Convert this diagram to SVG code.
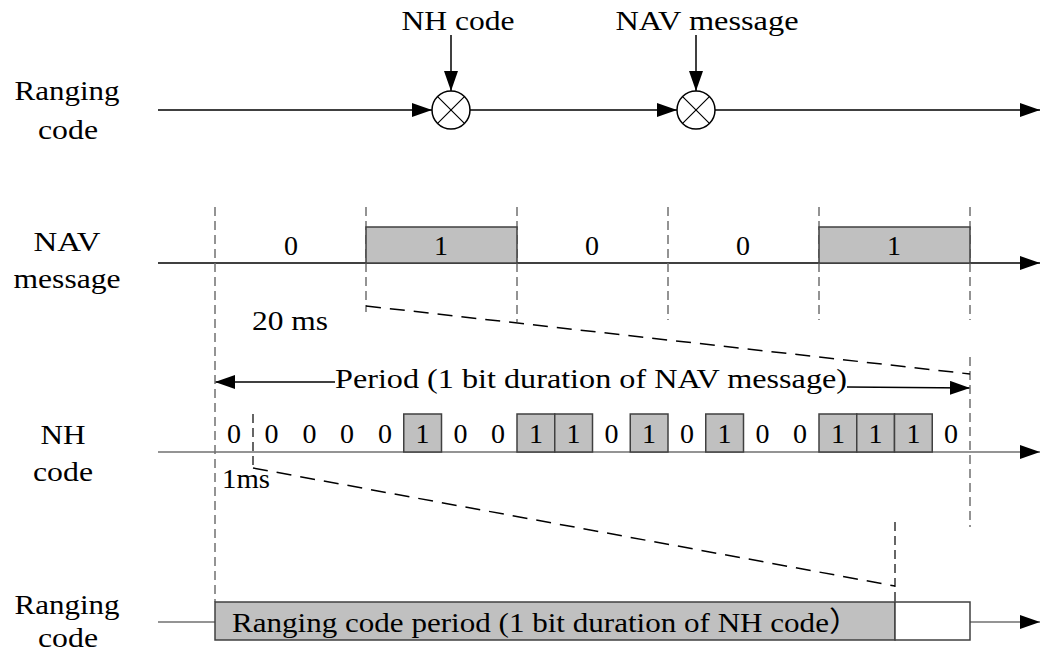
<svg xmlns="http://www.w3.org/2000/svg" width="1041" height="653" viewBox="0 0 1041 653">
<style>
text{font-family:"Liberation Serif","Times New Roman",serif;font-size:28px;fill:#000;text-anchor:middle}
.ax{stroke:#000;stroke-width:1.5;fill:none}
.axg{stroke:#707070;stroke-width:1.5;fill:none}
.vd{stroke:#707070;stroke-width:1.5;stroke-dasharray:9,5;fill:none}
.vdk{stroke:#000;stroke-width:1.2;stroke-dasharray:9,5;fill:none}
.dg{stroke:#000;stroke-width:1.5;stroke-dasharray:15,9;fill:none}
.bx{fill:#c0c0c0;stroke:#404040;stroke-width:1.5}
.wb{fill:#fff;stroke:#404040;stroke-width:1.5}
</style>
<defs>
<marker id="ah" markerUnits="userSpaceOnUse" markerWidth="20" markerHeight="14" refX="20" refY="7" orient="auto"><path d="M0,0 L20,7 L0,14 z" fill="#000"/></marker>
</defs>
<g id="labels">
<text x="67" y="100" textLength="105" lengthAdjust="spacingAndGlyphs">Ranging</text>
<text x="68" y="139" textLength="60" lengthAdjust="spacingAndGlyphs">code</text>
<text x="67" y="251" textLength="67" lengthAdjust="spacingAndGlyphs">NAV</text>
<text x="67" y="288" textLength="107" lengthAdjust="spacingAndGlyphs">message</text>
<text x="63" y="444" textLength="45" lengthAdjust="spacingAndGlyphs">NH</text>
<text x="63" y="481" textLength="60" lengthAdjust="spacingAndGlyphs">code</text>
<text x="67" y="614" textLength="105" lengthAdjust="spacingAndGlyphs">Ranging</text>
<text x="68" y="647" textLength="60" lengthAdjust="spacingAndGlyphs">code</text>
</g>
<g id="connectors">
<line class="ax" x1="158" y1="110" x2="432" y2="110" marker-end="url(#ah)"/>
<line class="ax" x1="470" y1="110" x2="677" y2="110" marker-end="url(#ah)"/>
<line class="ax" x1="715" y1="110" x2="1040" y2="110" marker-end="url(#ah)"/>
<line class="ax" x1="451" y1="35" x2="451" y2="91" marker-end="url(#ah)"/>
<line class="ax" x1="696" y1="35" x2="696" y2="91" marker-end="url(#ah)"/>
<line class="ax" x1="158" y1="263" x2="1040" y2="263" marker-end="url(#ah)"/>
<line class="axg" x1="158" y1="452" x2="1040" y2="452" marker-end="url(#ah)"/>
<line class="axg" x1="158" y1="622" x2="215" y2="622"/>
<line class="axg" x1="970" y1="622" x2="1040" y2="622" marker-end="url(#ah)"/>
<line class="ax" x1="335" y1="382" x2="215" y2="382" marker-end="url(#ah)"/>
<line class="ax" x1="847" y1="387" x2="970" y2="388" marker-end="url(#ah)"/>
<line class="vd" x1="215" y1="207" x2="215" y2="602"/>
<line class="vd" x1="366" y1="207" x2="366" y2="312"/>
<line class="vd" x1="517" y1="207" x2="517" y2="322"/>
<line class="vd" x1="668" y1="207" x2="668" y2="320"/>
<line class="vd" x1="819" y1="207" x2="819" y2="320"/>
<line class="vd" x1="970" y1="207" x2="970" y2="320"/>
<line class="vd" x1="970" y1="357" x2="970" y2="527"/>
<line class="vdk" x1="253" y1="414" x2="253" y2="468"/>
<line class="vdk" x1="895" y1="522" x2="895" y2="602"/>
<line class="dg" x1="366" y1="306" x2="970" y2="374"/>
<line class="dg" x1="253" y1="468" x2="895" y2="586"/>
</g>
<g id="mixer1"><circle cx="451" cy="110" r="19" fill="#fff" stroke="#000" stroke-width="1.5"/><path d="M437.6,96.6 L464.4,123.4 M464.4,96.6 L437.6,123.4" stroke="#000" stroke-width="1.2"/></g>
<g id="mixer2"><circle cx="696" cy="110" r="19" fill="#fff" stroke="#000" stroke-width="1.5"/><path d="M682.6,96.6 L709.4,123.4 M709.4,96.6 L682.6,123.4" stroke="#000" stroke-width="1.2"/></g>
<g id="top-labels">
<text x="458" y="30" textLength="113" lengthAdjust="spacingAndGlyphs">NH code</text>
<text x="707" y="30" textLength="183" lengthAdjust="spacingAndGlyphs">NAV message</text>
</g>
<g id="nav-message">
<rect class="bx" x="366" y="227" width="151" height="36"/>
<rect class="bx" x="819" y="227" width="151" height="36"/>
<text x="291" y="255">0</text>
<text x="441" y="255">1</text>
<text x="592" y="255">0</text>
<text x="743" y="255">0</text>
<text x="894" y="255">1</text>
<text x="290" y="330" textLength="76" lengthAdjust="spacingAndGlyphs">20 ms</text>
</g>
<g id="period">
<text x="591" y="388" textLength="512" lengthAdjust="spacingAndGlyphs">Period (1 bit duration of NAV message)</text>
</g>
<g id="nh-code">
<rect class="bx" x="403.75" y="414" width="37.75" height="38"/>
<rect class="bx" x="517" y="414" width="37.75" height="38"/>
<rect class="bx" x="554.75" y="414" width="37.75" height="38"/>
<rect class="bx" x="630.25" y="414" width="37.75" height="38"/>
<rect class="bx" x="705.75" y="414" width="37.75" height="38"/>
<rect class="bx" x="819" y="414" width="37.75" height="38"/>
<rect class="bx" x="856.75" y="414" width="37.75" height="38"/>
<rect class="bx" x="894.5" y="414" width="37.75" height="38"/>
<text x="233.9" y="443">0</text>
<text x="271.6" y="443">0</text>
<text x="309.4" y="443">0</text>
<text x="347.1" y="443">0</text>
<text x="384.9" y="443">0</text>
<text x="422.6" y="443">1</text>
<text x="460.4" y="443">0</text>
<text x="498.1" y="443">0</text>
<text x="535.9" y="443">1</text>
<text x="573.6" y="443">1</text>
<text x="611.4" y="443">0</text>
<text x="649.1" y="443">1</text>
<text x="686.9" y="443">0</text>
<text x="724.6" y="443">1</text>
<text x="762.4" y="443">0</text>
<text x="800.1" y="443">0</text>
<text x="837.9" y="443">1</text>
<text x="875.6" y="443">1</text>
<text x="913.4" y="443">1</text>
<text x="951.1" y="443">0</text>
<text x="246" y="488" textLength="48" lengthAdjust="spacingAndGlyphs">1ms</text>
</g>
<g id="ranging-period">
<rect class="bx" x="215" y="602" width="680" height="38"/>
<rect class="wb" x="895" y="602" width="75" height="38"/>
<text x="546" y="632" textLength="628" lengthAdjust="spacingAndGlyphs" style="font-family:'Liberation Serif','Noto Sans CJK SC',serif">Ranging code period (1 bit duration of NH code）</text>
</g>
</svg>
